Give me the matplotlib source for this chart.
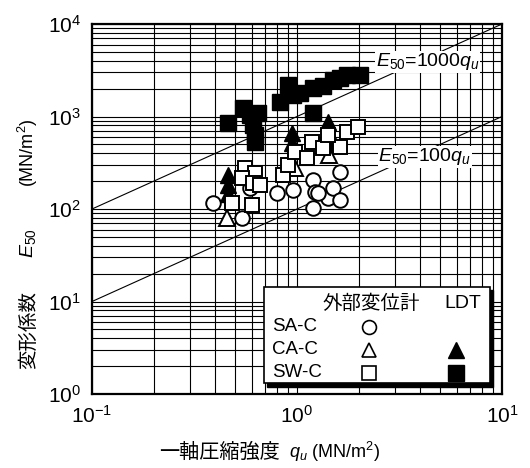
import numpy as np
import matplotlib.pyplot as plt
from matplotlib.patches import Rectangle

plt.rcParams['font.family'] = ['Liberation Sans', 'Noto Sans CJK JP']
plt.rcParams['mathtext.fontset'] = 'custom'
plt.rcParams['mathtext.rm'] = 'Liberation Sans'
plt.rcParams['mathtext.it'] = 'Liberation Sans:italic'

# 外部変位計 (open markers)
sa_q = [0.389, 0.540, 0.590, 0.798, 0.956, 1.197, 1.224, 1.197, 1.416, 1.498, 1.62, 1.62, 1.26]
sa_e = [116, 80, 169, 149, 160, 206, 153, 102.5, 131.5, 169, 251, 125, 149]

ca_q = [0.455, 0.978, 1.44]
ca_e = [80, 277, 384]

sw_q = [0.557, 0.624, 0.540, 0.610, 0.661, 0.482, 0.603, 0.855, 0.904, 0.978,
        1.119, 1.184, 1.339, 1.62, 1.753, 1.985, 1.416]
sw_e = [277, 245, 216, 191, 182, 116, 110, 233, 299, 413,
        356, 530, 456, 468, 680, 769, 631]

# LDT (filled markers)
ldt_ca_q = [0.460, 0.460, 0.460, 0.946, 0.946, 1.416, 1.416, 1.44]
ldt_ca_e = [233, 182, 145, 664, 517, 873, 700, 530]

ldt_sw_q = [0.460, 0.546, 0.590, 0.645, 0.610, 0.624, 0.624, 0.826, 0.904, 1.035,
            1.197, 1.339, 1.498, 1.753, 2.03, 1.197, 0.956, 1.62]
ldt_sw_e = [851, 1236, 1038, 1091, 809, 631, 530, 1435, 2191, 1795,
            2032, 2137, 2481, 2810, 2810, 1091, 1708, 2607]

fig = plt.figure(figsize=(5.30, 4.68), dpi=100)
ax = fig.add_axes([0.1736, 0.1581, 0.7736, 0.7906])
ax.set_xscale('log')
ax.set_yscale('log')
ax.set_xlim(0.1, 10)
ax.set_ylim(1, 1e4)

ax.grid(True, which='both', color='black', linewidth=0.8)
ax.set_axisbelow(True)
for s in ax.spines.values():
    s.set_linewidth(1.6)
ax.tick_params(which='both', length=0, labelsize=15, pad=8)

qq = np.array([0.1, 10])
ax.plot(qq, 1000 * qq, color='black', lw=0.8, zorder=2)
ax.plot(qq, 100 * qq, color='black', lw=0.8, zorder=2)
ax.text(4.35, 3.9e3, r'$E_{50}$=1000$q_u$', fontsize=14, ha='center', va='center',
        bbox=dict(facecolor='white', edgecolor='none', pad=0.5), zorder=3)
ax.text(4.2, 3.65e2, r'$E_{50}$=100$q_u$', fontsize=14, ha='center', va='center',
        bbox=dict(facecolor='white', edgecolor='none', pad=0.5), zorder=3)

ax.plot(ldt_sw_q, ldt_sw_e, 's', ms=11.5, mfc='black', mec='black', ls='none', zorder=4)
ax.plot(ldt_ca_q, ldt_ca_e, '^', ms=12, mfc='black', mec='black', ls='none', zorder=4)
ax.plot(sa_q, sa_e, 'o', ms=10.5, mfc='white', mec='black', mew=1.4, ls='none', zorder=5)
ax.plot(ca_q, ca_e, '^', ms=11, mfc='white', mec='black', mew=1.4, ls='none', zorder=5)
ax.plot(sw_q, sw_e, 's', ms=10.5, mfc='white', mec='black', mew=1.4, ls='none', zorder=6)

# axis labels built from pieces (CJK + math)
fig.text(0.300, 0.034, '一軸圧縮強度', fontsize=14.5, family='Noto Sans CJK JP',
         ha='left', va='center')
fig.text(0.545, 0.034, r'$q_u$ (MN/m$^2$)', fontsize=13, ha='left', va='center')
fig.text(0.053, 0.295, '変形係数', fontsize=14, family='Noto Sans CJK JP',
         rotation=90, ha='center', va='center')
fig.text(0.053, 0.481, r'$E_{50}$', fontsize=14, rotation=90, ha='center', va='center')
fig.text(0.053, 0.673, r'(MN/m$^2$)', fontsize=13, rotation=90, ha='center', va='center')

# legend box with shadow
lx, ly, lw_, lh = 0.42, 0.03, 0.55, 0.26
ax.add_patch(Rectangle((lx + 0.008, ly - 0.01), lw_, lh, transform=ax.transAxes,
                       facecolor='black', edgecolor='black', zorder=7))
ax.add_patch(Rectangle((lx, ly), lw_, lh, transform=ax.transAxes,
                       facecolor='white', edgecolor='black', lw=1.2, zorder=8))
ax.text(0.68, 0.245, '外部変位計', transform=ax.transAxes, fontsize=14,
        family='Noto Sans CJK JP', ha='center', va='center', zorder=9)
ax.text(0.905, 0.245, 'LDT', transform=ax.transAxes, fontsize=14,
        ha='center', va='center', zorder=9)
rows = ['SA-C', 'CA-C', 'SW-C']
ext_m = ['o', '^', 's']
ldt_m = [None, '^', 's']
for i, name in enumerate(rows):
    yy = 0.182 - i * 0.062
    ax.text(0.44, yy, name, transform=ax.transAxes, fontsize=13.5,
            ha='left', va='center', zorder=9)
    ax.plot(0.676, yy, ext_m[i], ms=10, mfc='white', mec='black', mew=1.2,
            transform=ax.transAxes, zorder=9, clip_on=False)
    if ldt_m[i]:
        ax.plot(0.888, yy, ldt_m[i], ms=11, mfc='black', mec='black',
                transform=ax.transAxes, zorder=9, clip_on=False)

fig.savefig('out.png', dpi=100)
